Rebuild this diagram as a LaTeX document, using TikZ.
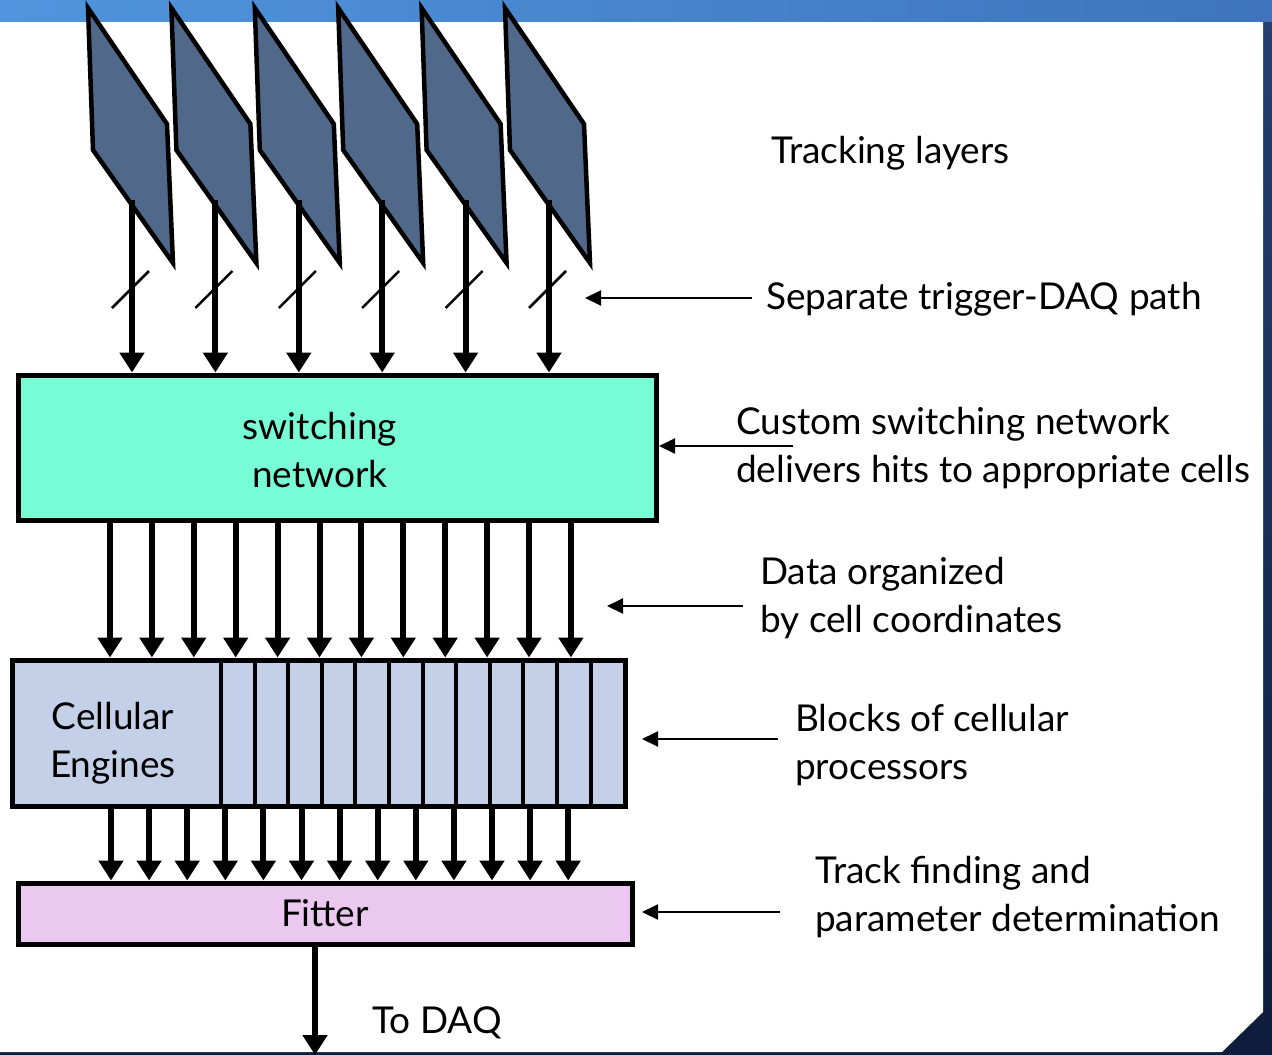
\documentclass[tikz,border=0pt]{standalone}
\usepackage{fontspec}
\setmainfont{Lato}
\usetikzlibrary{arrows.meta, positioning, calc}
\definecolor{slidetop}{HTML}{5095DD}
\definecolor{slidetopr}{HTML}{3F74BC}
\definecolor{slidenavy}{HTML}{0E1D3C}
\definecolor{slideside}{HTML}{24406F}
\definecolor{layerfill}{HTML}{50698A}
\definecolor{switchfill}{HTML}{78FCD6}
\definecolor{cellfill}{HTML}{C4D0E8}
\definecolor{fitfill}{HTML}{EBC8EF}
\tikzset{
  bus/.style={line width=6pt, -{Triangle[width=24pt, length=20pt]}},
  note/.style={line width=2pt, -{Triangle[width=15pt, length=16pt]}},
  blockbox/.style={draw=black, line width=5pt, inner sep=0pt},
  lbl/.style={inner sep=0pt, align=left, anchor=west},
}
\begin{document}
\begin{tikzpicture}[x=1pt, y=-1pt, font=\fontsize{37}{48}\selectfont]
    \useasboundingbox (0,0) rectangle (1272,1055);
    % slide background
    \fill[slidenavy] (0,0) rectangle (1272,1055);
    \shade[left color=slidetop, right color=slidetopr] (0,0) rectangle (1272,22);
    \shade[top color=slideside, bottom color=slidenavy] (1263,22) rectangle (1272,1052);
    \fill[white] (0,22) -- (1263,22) -- (1263,1012) -- (1222,1052) -- (0,1052) -- cycle;

    % tracking layers and their links
    \foreach \i in {0,...,5} {
      \pgfmathsetmacro{\lx}{88+83.4*\i}
      \fill[layerfill, draw=black, line width=4.5pt]
        (\lx,8) -- (\lx+79,124) -- (\lx+85,263) -- (\lx+5,150) -- cycle;
      \coordinate (L\i) at (\lx+44,200);
    }

    \node[blockbox, fill=switchfill, minimum width=638, minimum height=145] (sw) at (337,447.5) {};
    \node[inner sep=0pt, align=center] (swtxt) at (320,450) {switching\\network};
    \node[blockbox, fill=cellfill, minimum width=613, minimum height=146] (ce) at (318.5,733) {};
    \node[inner sep=0pt, align=center] (celltxt) at (113,743) {Cellular\\Engines};
    \node[blockbox, fill=fitfill, minimum width=614, minimum height=61] (fit) at (325,913.5) {Fitter};

    \foreach \i in {0,...,5} {
      \draw[bus] (L\i) -- (sw.north -| L\i);
      \draw[line width=2.5pt] ($(L\i)+(-20,108)$) -- ++(37,-37);
    }

    % cell dividers
    \foreach \k in {0,...,11}
      \draw[line width=4pt] (ce.north -| {221+33.6*\k},0) -- (ce.south -| {221+33.6*\k},0);

    % hits to cells
    \foreach \k in {0,...,11}
      \draw[bus] (sw.south -| {110+41.9*\k},0) -- (ce.north -| {110+41.9*\k},0);

    % cells to fitter
    \foreach \k in {0,...,12}
      \draw[bus] (ce.south -| {111+38.1*\k},0) -- (fit.north -| {111+38.1*\k},0);

    \coordinate (daq) at (315,1055);
    \draw[bus] (fit.south -| daq) -- (daq);
    \node[inner sep=0pt] (todaq) at (437,1023) {To DAQ};

    % labels on the right
    \node[lbl] (tracking) at (771,153) {Tracking layers};
    \node[lbl] (trig) at (766,299) {Separate trigger-DAQ path};
    \node[lbl] (custom) at (736,448) {Custom switching network\\delivers hits to appropriate cells};
    \node[lbl] (dataorg) at (760,598) {Data organized\\by cell coordinates};
    \node[lbl] (blocks) at (795,745) {Blocks of cellular\\processors};
    \node[lbl] (trackfind) at (815,897) {Track finding and\\parameter determination};

    \coordinate (trigtail) at (752,298);   \coordinate (trighead) at (585,298);
    \coordinate (customtail) at (793,446); \coordinate (customhead) at (659,446);
    \coordinate (datatail) at (743,606);   \coordinate (datahead) at (607,606);
    \coordinate (blocktail) at (778,739);  \coordinate (blockhead) at (642,739);
    \coordinate (tracktail) at (780,912);  \coordinate (trackhead) at (642,912);
    \draw[note] (trigtail) -- (trighead);
    \draw[note] (customtail) -- (customhead);
    \draw[note] (datatail) -- (datahead);
    \draw[note] (blocktail) -- (blockhead);
    \draw[note] (tracktail) -- (trackhead);
\end{tikzpicture}
\end{document}
